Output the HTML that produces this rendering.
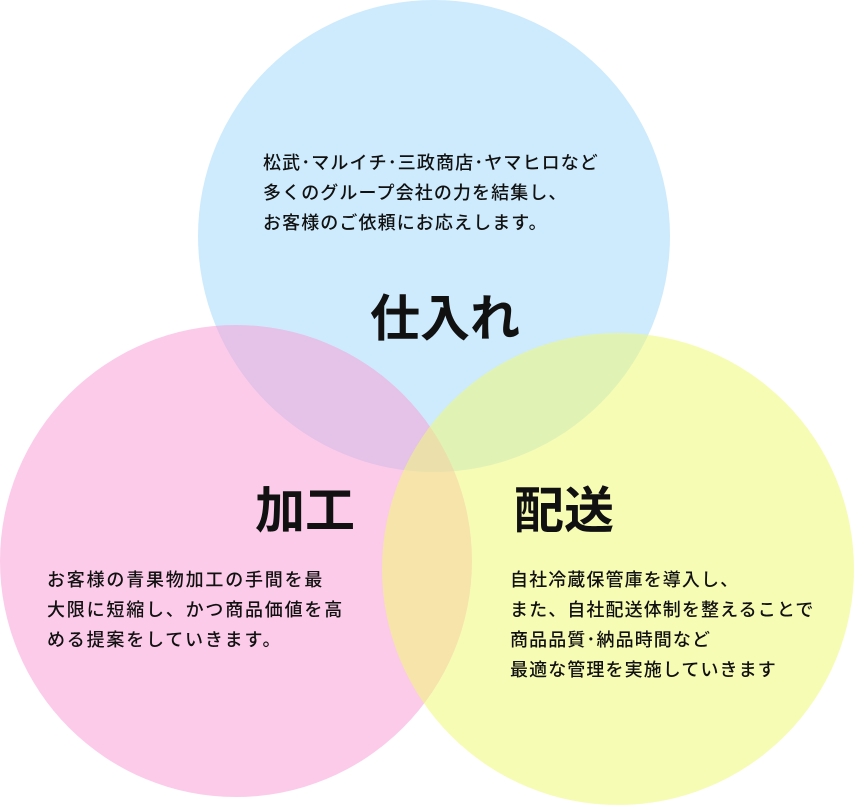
<!DOCTYPE html>
<html><head><meta charset="utf-8"><style>
body{margin:0;width:854px;height:805px;overflow:hidden;background:#fff;position:relative;font-family:"Liberation Sans","Noto Sans CJK JP",sans-serif;color:#111}
svg{position:absolute;left:0;top:0}
.t{position:absolute;font-size:18px;letter-spacing:1.1px;line-height:30px;white-space:nowrap;font-weight:500}
.h{position:absolute;font-size:50px;font-weight:bold;line-height:54px;white-space:nowrap}
</style></head><body>
<svg width="854" height="805">
<circle cx="434" cy="236" r="236" fill="#cdebfd"/>
<circle cx="236" cy="561" r="236" fill="rgb(250,160,215)" fill-opacity="0.55"/>
<circle cx="618" cy="569" r="236" fill="rgb(240,250,120)" fill-opacity="0.55"/>
</svg>
<div class="t" style="left:263px;top:148px">松武･マルイチ･三政商店･ヤマヒロなど<br>多くのグループ会社の力を結集し、<br>お客様のご依頼にお応えします。</div>
<div class="h" style="left:370px;top:292px">仕入れ</div>
<div class="h" style="left:255px;top:484px">加工</div>
<div class="h" style="left:514px;top:484px">配送</div>
<div class="t" style="left:47px;top:565px;letter-spacing:1.8px">お客様の青果物加工の手間を最<br>大限に短縮し、かつ商品価値を高<br>める提案をしていきます。</div>
<div class="t" style="left:510px;top:565px">自社冷蔵保管庫を導入し、<br>また、自社配送体制を整えることで<br>商品品質･納品時間など<br>最適な管理を実施していきます</div>
</body></html>
